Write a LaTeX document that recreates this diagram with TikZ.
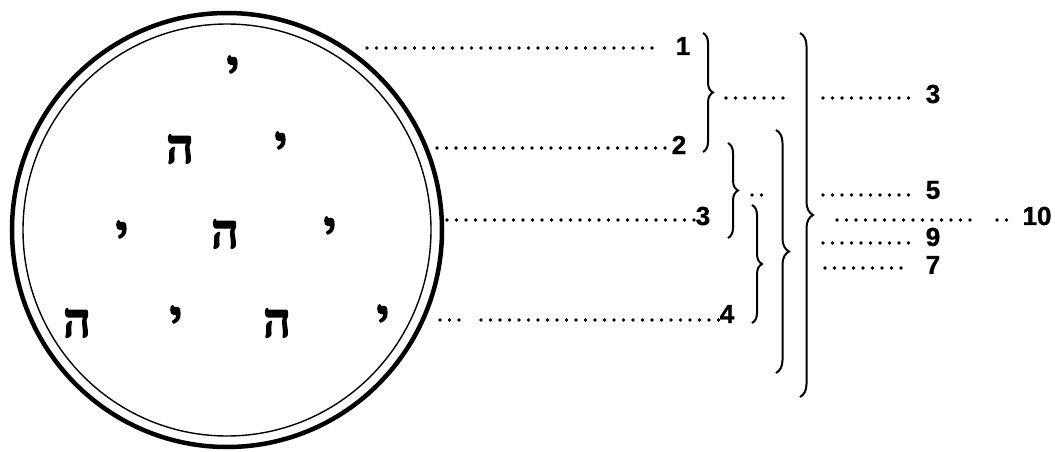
\documentclass[tikz,border=0pt]{standalone}
\usepackage{fontspec}
\newfontfamily\numfont[FakeBold=1.2]{Liberation Sans}
\newfontfamily\hebfont[Script=Hebrew,FakeBold=3]{Liberation Serif}
\TeXXeTstate=1
\usetikzlibrary{decorations.pathreplacing}
\newcommand{\yod}{\beginR י\endR}
\newcommand{\he}{\beginR ה\endR}

\begin{document}
\begin{tikzpicture}[x=1pt,y=1pt,
      num/.style={font=\numfont\bfseries\fontsize{26}{26}\selectfont,inner sep=0pt},
      heb/.style={font=\hebfont\bfseries\fontsize{48}{48}\selectfont,inner sep=0pt},
      dots/.style={line width=3.6pt,line cap=round,dash pattern=on 0pt off 9.5pt},
      brc/.style={decorate,decoration={brace,amplitude=#1},line width=2pt},
      brc/.default=10pt]
    \useasboundingbox (0,0) rectangle (1055,-452);
    \draw[line width=4.5pt] (227,-230) ellipse[x radius=215pt,y radius=217pt];
    \draw[line width=1.4pt] (227,-230) ellipse[x radius=204pt,y radius=206pt];

    \node[heb] (y1) at (233,-70) {\yod};
    \node[heb] (h21) at (180,-149) {\he};
    \node[heb] (y22) at (281,-146) {\yod};
    \node[heb] (y31) at (122,-235) {\yod};
    \node[heb] (h32) at (225,-234) {\he};
    \node[heb] (y33) at (330,-231) {\yod};
    \node[heb] (h41) at (77,-323) {\he};
    \node[heb] (y42) at (176,-320) {\yod};
    \node[heb] (h43) at (277,-323) {\he};
    \node[heb] (y44) at (383,-319) {\yod};

    \node[num] (n1) at (683,-46) {1};
    \node[num] (n2) at (679,-145) {2};
    \node[num] (n3) at (703,-216) {3};
    \node[num] (n4) at (727,-314) {4};
    \coordinate (s1) at (367,-48);
    \coordinate (s2) at (437,-148);
    \coordinate (s3) at (447,-220);
    \coordinate (s4) at (440,-320);
    \coordinate (g4) at (462,-320);
    \coordinate (g4b) at (481,-320);
    \draw[dots,shorten >=22pt] (s1) -- (s1 -| n1.west);
    \draw[dots] (s2) -- (s2 -| n2.west);
    \draw[dots] (s3) -- (s3 -| n3.west);
    \draw[dots] (s4) -- (g4);
    \draw[dots] (g4b) -- (s4 -| n4.west);

    \draw[brc] (703,-33) -- (703,-152);
    \draw[brc] (728,-143) -- (728,-238);
    \draw[brc] (752,-205) -- (752,-323);
    \draw[brc=13pt] (776,-130) -- (776,-373);
    \draw[brc=13pt] (800,-33) -- (800,-397);

    \coordinate (ta) at (726,-98);
    \coordinate (ea) at (792,-98);
    \coordinate (tb) at (752,-195);
    \coordinate (eb) at (763,-195);
    \draw[dots] (ta) -- (ea);
    \draw[dots] (tb) -- (eb);

    \node[num] (m3) at (933,-94) {3};
    \node[num] (m5) at (933,-190) {5};
    \node[num] (m10) at (1037,-216) {10};
    \node[num] (m9) at (933,-237) {9};
    \node[num] (m7) at (933,-265) {7};
    \coordinate (r3) at (823,-98);
    \coordinate (r5) at (823,-195);
    \coordinate (r10) at (837,-220);
    \coordinate (g10) at (977,-220);
    \coordinate (g10b) at (997,-220);
    \coordinate (r9) at (823,-243);
    \coordinate (r7) at (825,-268);
    \draw[dots,shorten >=12pt] (r3) -- (r3 -| m3.west);
    \draw[dots,shorten >=12pt] (r5) -- (r5 -| m5.west);
    \draw[dots] (r10) -- (g10);
    \draw[dots,shorten >=8pt] (g10b) -- (r10 -| m10.west);
    \draw[dots,shorten >=12pt] (r9) -- (r9 -| m9.west);
    \draw[dots,shorten >=22pt] (r7) -- (r7 -| m7.west);
  \end{tikzpicture}
\end{document}
